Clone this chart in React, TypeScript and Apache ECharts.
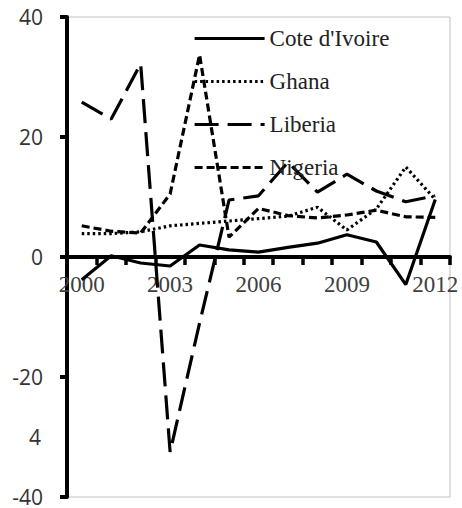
import React, { useEffect, useRef } from "react";
import * as echarts from "echarts";

const years = ["2000", "2001", "2002", "2003", "2004", "2005", "2006", "2007", "2008", "2009", "2010", "2011", "2012"];
const coteDIvoire = [-3.8, 0.2, -1.0, -1.5, 2.0, 1.2, 0.8, 1.6, 2.3, 3.7, 2.5, -4.6, 9.6];
const ghana = [3.9, 3.9, 4.2, 5.2, 5.6, 6.0, 6.4, 6.8, 8.3, 4.5, 8.0, 15.0, 9.6];
const liberia = [25.8, 23.0, 32.2, -32.5, -11.0, 9.5, 10.2, 15.8, 10.8, 13.8, 11.0, 9.2, 10.2];
const nigeria = [5.2, 4.3, 4.0, 10.5, 33.7, 3.3, 8.1, 6.9, 6.5, 7.0, 7.8, 6.7, 6.6];
const yLabels: Record<string, string> = { "40": "40", "20": "20", "0": "0", "-20": "-20", "-40": "-40" };
const oddLabels: Record<string, string> = { "-30": "4" };

const SERIF = "'Liberation Serif', 'DejaVu Serif', serif";
const SANS = "'Open Sans', 'Noto Sans', sans-serif";

const GRID_TOP = 17;
const GRID_BOTTOM = 11;
const CHART_H = 508;
const Y_MIN = -40;
const Y_MAX = 40;

export default function App() {
  const ref = useRef<HTMLDivElement>(null);
  useEffect(() => {
    if (!ref.current) return;
    const chart = echarts.init(ref.current, null, { renderer: "svg" });
    const gridH = CHART_H - GRID_TOP - GRID_BOTTOM;
    // move the category axis from the grid bottom up to the value 0
    const zeroOffset = -gridH * ((0 - Y_MIN) / (Y_MAX - Y_MIN));
    const mk = (name: string, data: number[], type: any) => ({
      name,
      type: "line",
      data,
      symbol: "none",
      xAxisIndex: 0,
      yAxisIndex: 0,
      lineStyle: { color: "#000", width: 3.2, type, cap: "butt" },
      itemStyle: { color: "#000" },
    });
    chart.setOption({
      animation: false,
      backgroundColor: "#fff",
      grid: {
        left: 67,
        right: 12,
        top: GRID_TOP,
        bottom: GRID_BOTTOM,
        show: true,
        borderColor: "#c0c0c0",
        borderWidth: 1,
        containLabel: false,
        outerBoundsMode: "none",
      },
      legend: {
        orient: "vertical",
        left: 193,
        top: 27,
        padding: 0,
        itemWidth: 70,
        itemHeight: 22,
        itemGap: 20,
        itemStyle: { opacity: 0 },
        lineStyle: { width: 3.2 },
        textStyle: { fontFamily: SERIF, fontSize: 23, color: "#222", lineHeight: 22 },
        data: ["Cote d'Ivoire", "Ghana", "Liberia", "Nigeria"],
      },
      xAxis: {
        type: "category",
        data: years,
        boundaryGap: true,
        position: "bottom",
        offset: zeroOffset,
        axisLine: { onZero: false, lineStyle: { color: "#000", width: 4 } },
        axisTick: { show: true, interval: 0, length: 8, lineStyle: { color: "#000", width: 3.5 } },
        axisLabel: { interval: 2, margin: 16, fontFamily: SERIF, fontSize: 23, color: "#404040" },
        splitLine: { show: false },
      },
      yAxis: [
        {
          type: "value",
          min: Y_MIN,
          max: Y_MAX,
          interval: 20,
          position: "left",
          axisLine: { show: true, lineStyle: { color: "#000", width: 4 } },
          axisTick: { show: true, length: 7, lineStyle: { color: "#000", width: 4 } },
          axisLabel: {
            margin: 24,
            fontFamily: SANS,
            fontSize: 21,
            color: "#333",
            formatter: (v: number) => yLabels[String(v)] ?? "",
          },
          splitLine: { show: false },
        },
        {
          type: "value",
          min: Y_MIN,
          max: Y_MAX,
          interval: 10,
          position: "left",
          axisLine: { show: false },
          axisTick: { show: false },
          axisLabel: {
            margin: 26,
            fontFamily: SANS,
            fontSize: 21,
            color: "#333",
            formatter: (v: number) => oddLabels[String(v)] ?? "",
          },
          splitLine: { show: false },
        },
      ],
      series: [
        mk("Cote d'Ivoire", coteDIvoire, "solid"),
        mk("Ghana", ghana, [2.5, 3]),
        mk("Liberia", liberia, [24, 9]),
        mk("Nigeria", nigeria, [8, 4]),
      ],
    });
    return () => chart.dispose();
  }, []);
  return <div ref={ref} style={{ position: "fixed", left: 0, top: 0, width: 462, height: 508 }} />;
}
